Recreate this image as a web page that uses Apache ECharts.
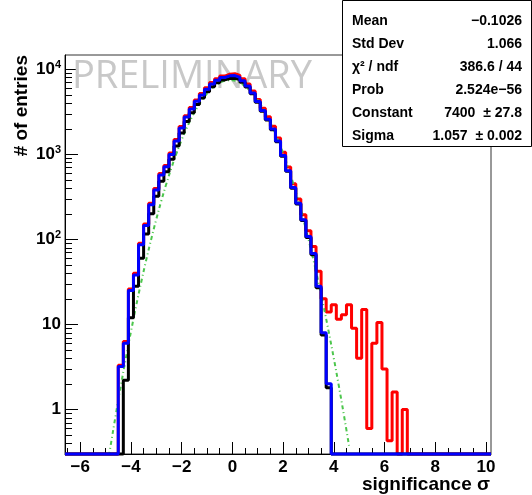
<!DOCTYPE html>
<html>
<head>
<meta charset="utf-8">
<script src="https://cdn.jsdelivr.net/npm/echarts@6/dist/echarts.min.js"></script>
<style>
html, body { margin: 0; padding: 0; background: #fff; }
#main { width: 532px; height: 495px; }
</style>
</head>
<body>
<div id="main"></div>
<script>
// histogram binning (significance, bins of 0.2)
var binWidth = 0.2;
var xMin = -6.6, xMax = 10.2;
var yMin = 0.3, yMax = 14620;

// blue histogram, first bin starts at -4.5
var blueStart = -4.5;
var blueCounts = [
  3.2, 6, 25, 38, 86, 145, 255, 380, 570, 710,
  990, 1425, 2025, 2725, 3400, 4175, 4950, 5800, 6675, 7375,
  7950, 8325, 8375, 7975, 7300, 6300, 5225, 4150, 3250, 2575,
  1975, 1425, 965, 640, 405, 265, 170, 108, 68, 28,
  8, 2
];

// black histogram, first bin starts at -4.3
var blackStart = -4.3;
var blackCounts = [
  2.2, 12, 28, 60, 115, 200, 320, 480, 620, 870,
  1250, 1775, 2425, 3075, 3825, 4575, 5400, 6200, 6900, 7450,
  7750, 7800, 7525, 7000, 6150, 5125, 4060, 3190, 2525, 1940,
  1400, 945, 628, 398, 260, 166, 105, 66, 27, 7.5,
  1.8
];

// red histogram, first bin starts at -4.5 (0 = empty bin)
var redStart = -4.5;
var redCounts = [
  3.3, 6.3, 26, 40, 90, 151, 265, 395, 593, 738,
  1030, 1482, 2106, 2834, 3536, 4342, 5148, 6032, 6942, 7670,
  8270, 8700, 8820, 8400, 7700, 6650, 5520, 4400, 3460, 2760,
  2130, 1545, 1055, 705, 450, 298, 194, 126, 82, 42,
  20, 14, 17, 11.5, 13, 17, 9, 4, 15, 0.6,
  6, 10.5, 3, 0.43, 1.6, 0, 1.0
];

// gaussian fit curve (green)
var fitX = [-5.0, -4.8, -4.6, -4.4, -4.2, -4.0, -3.8, -3.6, -3.4, -3.2,
  -3.0, -2.8, -2.6, -2.4, -2.2, -2.0, -1.8, -1.6, -1.4, -1.2,
  -1.0, -0.8, -0.6, -0.4, -0.2, 0.0, 0.2, 0.4, 0.6, 0.8,
  1.0, 1.2, 1.4, 1.6, 1.8, 2.0, 2.2, 2.4, 2.6, 2.8,
  3.0, 3.2, 3.4, 3.6, 3.8, 4.0, 4.2, 4.4, 4.6];
var fitY = [0.159, 0.377, 0.858, 1.886, 4.00, 8.19, 16.2, 30.8, 56.6, 100.3,
  171.7, 283.4, 451.3, 693.6, 1028, 1471, 2030, 2704, 3473, 4306,
  5150, 5943, 6617, 7108, 7367, 7367, 7108, 6617, 5943, 5150,
  4306, 3473, 2704, 2030, 1471, 1028, 693.6, 451.3, 283.4, 171.7,
  100.3, 56.6, 30.8, 16.2, 8.19, 4.00, 1.886, 0.858, 0.377];

var xMajorTicks = [-6, -4, -2, 0, 2, 4, 6, 8, 10];
var xMinorTicks = [-6.5, -5.5, -5, -4.5, -3.5, -3, -2.5, -1.5, -1, -0.5,
  0.5, 1, 1.5, 2.5, 3, 3.5, 4.5, 5, 5.5, 6.5, 7, 7.5, 8.5, 9, 9.5];
var yMinorTicks = [0.4, 0.5, 0.6, 0.7, 0.8, 0.9,
  2, 3, 4, 5, 6, 7, 8, 9,
  20, 30, 40, 50, 60, 70, 80, 90,
  200, 300, 400, 500, 600, 700, 800, 900,
  2000, 3000, 4000, 5000, 6000, 7000, 8000, 9000];

var statsLabels = ['Mean', 'Std Dev', 'χ² / ndf', 'Prob', 'Constant', 'Sigma'];
var statsValues = ['\u22120.1026', '1.066', '386.6 / 44', '2.524e\u221256', '7400  \u00b1 27.8', '1.057  \u00b1 0.002'];

var FONT = 'Liberation Sans, Arial, Helvetica, sans-serif';

// outline of a histogram as step points, empty bins drawn on the frame bottom
function stepPoints(start, counts) {
  var pts = [[xMin, yMin], [start, yMin]];
  counts.forEach(function (c, i) {
    var lo = start + i * binWidth;
    var v = c > 0 ? c : yMin;
    pts.push([lo, v], [lo + binWidth, v]);
  });
  pts.push([start + counts.length * binWidth, yMin], [xMax, yMin]);
  return pts;
}

function histSeries(name, start, counts, color) {
  return {
    name: name,
    type: 'line',
    data: stepPoints(start, counts),
    showSymbol: false,
    symbol: 'none',
    clip: false,
    lineStyle: { color: color, width: 3 },
    animation: false
  };
}

var myChart = echarts.init(document.getElementById('main'), null, { renderer: 'canvas' });

var statsChildren = [
  { type: 'rect', shape: { x: 0.5, y: 0.5, width: 189, height: 146 },
    style: { fill: '#fff', stroke: '#000', lineWidth: 1 } }
];
statsLabels.forEach(function (t, i) {
  statsChildren.push({ type: 'text', x: 10, y: 21.5 + i * 22.9,
    style: { text: t, fontSize: 14, fontWeight: 'bold', fontFamily: FONT, fill: '#000', align: 'left', verticalAlign: 'middle' } });
  statsChildren.push({ type: 'text', x: 180, y: 21.5 + i * 22.9,
    style: { text: statsValues[i], fontSize: 14, fontWeight: 'bold', fontFamily: FONT, fill: '#000', align: 'right', verticalAlign: 'middle' } });
});

var option = {
  animation: false,
  grid: {
    left: 65, right: 41, top: 55, bottom: 41,
    show: true, borderColor: '#333', borderWidth: 1, backgroundColor: '#fff'
  },
  xAxis: [
    {
      type: 'value', min: xMin, max: xMax,
      axisLine: { onZero: false, lineStyle: { color: '#000', width: 1 } },
      axisTick: { inside: true, length: 12, customValues: xMajorTicks, lineStyle: { color: '#000' } },
      axisLabel: {
        customValues: xMajorTicks, margin: 5, color: '#000',
        fontSize: 17, fontWeight: 'bold', fontFamily: FONT,
        formatter: function (v) { return v < 0 ? '\u2212' + Math.abs(v) : String(v); }
      },
      splitLine: { show: false }
    },
    {
      type: 'value', min: xMin, max: xMax, position: 'bottom',
      axisLine: { show: false, onZero: false },
      axisTick: { inside: true, length: 6, customValues: xMinorTicks, lineStyle: { color: '#000' } },
      axisLabel: { show: false },
      splitLine: { show: false }
    }
  ],
  yAxis: {
    type: 'log', logBase: 10, min: yMin, max: yMax,
    axisLine: { show: true, onZero: false, lineStyle: { color: '#000', width: 1 } },
    axisTick: { show: true, inside: true, length: 13, lineStyle: { color: '#000' } },
    axisLabel: {
      margin: 4, showMinLabel: false, showMaxLabel: false,
      formatter: function (v) {
        var e = Math.round(Math.log10(v));
        if (e < 2) return '{b|' + Math.round(v) + '}';
        return '{b|10}{s|' + e + '}';
      },
      rich: {
        b: { fontSize: 17, fontWeight: 'bold', fontFamily: FONT, color: '#000', lineHeight: 20 },
        s: { fontSize: 11, fontWeight: 'bold', fontFamily: FONT, color: '#000', verticalAlign: 'top', lineHeight: 12 }
      }
    },
    splitLine: { show: false }
  },
  graphic: [
    { type: 'text', x: 72, y: 77, z: 1,
      style: { text: 'PRELIMINARY', fontSize: 38, fontFamily: 'Open Sans', fill: '#c8c8c8', align: 'left', verticalAlign: 'middle' } },
    { type: 'text', x: 22, y: 55, rotation: Math.PI / 2, z: 10,
      style: { text: '# of entries', fontSize: 19, fontWeight: 'bold', fontFamily: FONT, fill: '#000', align: 'right', verticalAlign: 'middle' } },
    { type: 'text', x: 490, y: 485, z: 10,
      style: { text: 'significance σ', fontSize: 19, fontWeight: 'bold', fontFamily: FONT, fill: '#000', align: 'right', verticalAlign: 'middle' } },
    { type: 'group', x: 342, y: 0, z: 100, children: statsChildren }
  ],
  series: [
    histSeries('red', redStart, redCounts, '#ff0000'),
    {
      name: 'fit',
      type: 'line',
      data: fitX.map(function (x, i) { return [x, fitY[i]]; }),
      smooth: true,
      showSymbol: false,
      symbol: 'none',
      lineStyle: { color: '#4cc64c', width: 2, type: [4, 3, 1, 3] }
    },
    histSeries('black', blackStart, blackCounts, '#000000'),
    histSeries('blue', blueStart, blueCounts, '#0000ff'),
    {
      name: 'yminor',
      type: 'custom',
      silent: true,
      clip: false,
      data: yMinorTicks.map(function (v) { return [xMin, v]; }),
      renderItem: function (params, api) {
        var p = api.coord([api.value(0), api.value(1)]);
        var y = Math.round(p[1]) + 0.5;
        return { type: 'line', shape: { x1: p[0], y1: y, x2: p[0] + 7, y2: y },
          style: { stroke: '#000', lineWidth: 1 } };
      }
    }
  ]
};

myChart.setOption(option);
window.onresize = function () {
  myChart.resize();
};
</script>
</body>
</html>
